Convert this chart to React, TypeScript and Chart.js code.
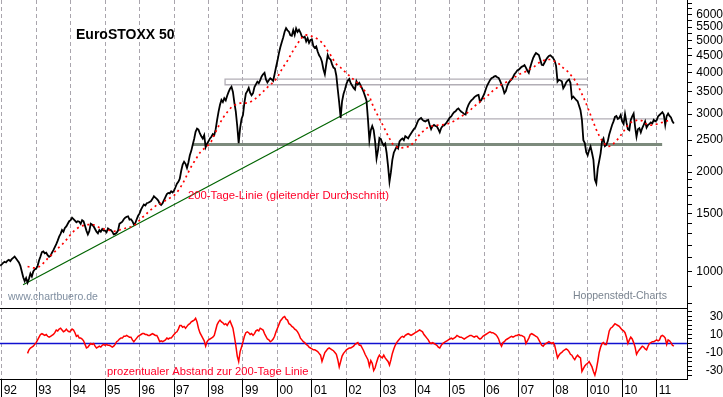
import { useEffect, useRef } from 'react';
import { Chart, registerables } from 'chart.js';

Chart.register(...registerables);

const FONT = '"Liberation Sans", Arial, Helvetica, sans-serif';

// ---- axis ticks ----
const yearTicks = [1992, 1993, 1994, 1995, 1996, 1997, 1998, 1999, 2000, 2001, 2002, 2003, 2004, 2005, 2006, 2007, 2008, 2009, 2010, 2011];
const yearLabels = ['92', '93', '94', '95', '96', '97', '98', '99', '00', '01', '02', '03', '04', '05', '06', '07', '08', '010', '10', '11'];

const priceTicks = [800, 900, 1000, 1100, 1200, 1300, 1400, 1500, 1600, 1700, 1800, 1900, 2000, 2250, 2500, 2750, 3000, 3250, 3500, 3750, 4000, 4250, 4500, 4750, 5000, 5250, 5500, 5750, 6000, 6250, 6500];
const priceLabels = [1000, 1500, 2000, 2500, 3000, 3500, 4000, 4500, 5000, 5500, 6000];

const devTicks = [-35, -30, -25, -20, -15, -10, -5, 0, 5, 10, 15, 20, 25, 30, 35];
const devLabels = [-30, -10, 10, 30];

// ---- EuroSTOXX 50, half-monthly readings ----
const INDEX_START = 1991.958;
const INDEX_STEP = 1 / 24;
const indexValues = [1040,
  1050, 1062, 1070, 1065, 1078, 1085, 1075, 1090, 1100, 1110, 1095, 1080, 1065, 1040, 1000, 960, 935, 955, 925, 950, 985, 965, 1000, 1015,
  1020, 1040, 1080, 1110, 1145, 1150, 1135, 1140, 1120, 1108, 1115, 1140, 1160, 1185, 1210, 1240, 1275, 1300, 1335, 1320, 1355, 1370, 1395, 1420,
  1430, 1455, 1440, 1425, 1410, 1420, 1415, 1395, 1430, 1420, 1375, 1330, 1295, 1325, 1395, 1385, 1370, 1345, 1320, 1305, 1335, 1320, 1345, 1330,
  1330, 1315, 1350, 1340, 1335, 1320, 1295, 1300, 1310, 1330, 1395, 1405, 1415, 1440, 1455, 1465, 1470, 1435, 1440, 1420, 1390, 1400, 1440, 1475,
  1500, 1540, 1570, 1595, 1585, 1610, 1615, 1625, 1635, 1660, 1690, 1675, 1660, 1640, 1605, 1590, 1610, 1645, 1680, 1715, 1730, 1725, 1750, 1735,
  1760, 1800, 1845, 1870, 1910, 2020, 2110, 2150, 2120, 2060, 2140, 2250, 2320, 2420, 2520, 2650, 2710, 2690, 2620, 2570, 2530, 2590, 2380, 2440,
  2480, 2530, 2560, 2610, 2590, 2700, 2880, 3050, 3200, 3310, 3260, 3350, 3300, 3410, 3500, 3580, 3630, 3500, 3250, 3050, 2760, 2450, 2720, 2900,
  2980, 3250, 3460, 3520, 3600, 3480, 3420, 3470, 3620, 3690, 3760, 3720, 3800, 3900, 3960, 4000, 3820, 3740, 3800, 3850, 3820, 3780, 3960, 4160,
  4350, 4580, 4780, 4950, 5120, 5330, 5460, 5380, 5330, 5200, 5180, 5390, 5210, 5450, 5320, 5400, 5300, 5150, 5120, 5150, 4980, 5090, 4930, 5030,
  5050, 4820, 4760, 4810, 4640, 4520, 4450, 4320, 4100, 3960, 4250, 4530, 4420, 4390, 4250, 4150, 4120, 3920, 3560, 3250, 2920, 3280, 3450, 3560,
  3700, 3790, 3830, 3720, 3660, 3600, 3560, 3770, 3690, 3730, 3660, 3580, 3500, 3400, 3300, 2900, 2500, 2680, 2760, 2680, 2480, 2200, 2330, 2540,
  2520, 2450, 2410, 2440, 2290, 2090, 1870, 2000, 2180, 2290, 2340, 2390, 2360, 2480, 2510, 2530, 2500, 2570, 2550, 2530, 2580, 2620, 2660, 2700,
  2730, 2800, 2870, 2900, 2920, 2880, 2860, 2850, 2870, 2880, 2780, 2700, 2760, 2780, 2760, 2750, 2700, 2640, 2720, 2760, 2770, 2800, 2840, 2880,
  2930, 2950, 3000, 3040, 3060, 3100, 3120, 3080, 3050, 3030, 3000, 2990, 3120, 3200, 3260, 3300, 3330, 3370, 3400, 3420, 3430, 3270, 3310, 3380,
  3450, 3560, 3660, 3730, 3800, 3850, 3870, 3900, 3910, 3880, 3860, 3780, 3690, 3600, 3470, 3520, 3650, 3730, 3780, 3820, 3880, 3960, 4010, 4070,
  4090, 4130, 4170, 4190, 4220, 4150, 4060, 4000, 4160, 4300, 4430, 4520, 4590, 4560, 4530, 4380, 4230, 4220, 4300, 4380, 4450, 4500, 4520, 4480,
  4430, 4350, 4200, 3760, 3810, 3790, 3770, 3590, 3650, 3740, 3790, 3820, 3730, 3350, 3390, 3350, 3310, 3280, 3180, 3080, 2880, 2500, 2450, 2300,
  2250, 2330, 2390, 2290, 2180, 1900, 1850, 2050, 2160, 2280, 2480, 2530, 2400, 2420, 2480, 2600, 2690, 2780, 2850, 2940, 2960, 2900, 2920, 2980,
  2850, 2800, 3000, 2830, 2700, 2680, 2880, 2950, 3010, 2750, 2560, 2700, 2720, 2640, 2720, 2780, 2850, 2730, 2780, 2800, 2830, 2810, 2880, 2850,
  2870, 2950, 2980, 3010, 3040, 2990, 2780, 2960, 3010, 2960, 2930, 2850, 2810];

// ---- 200-day moving average, monthly readings ----
const MA_START = 1992.75;
const MA_STEP = 1 / 12;
const ma200Values = [
  1035, 1030, 1025, 1027, 1033, 1050, 1070, 1095, 1115, 1137, 1160, 1185,
  1205, 1235, 1260, 1295, 1322, 1345, 1365, 1375, 1383, 1386, 1386, 1385,
  1372, 1358, 1350, 1342, 1335, 1330, 1323, 1325, 1335, 1345, 1352, 1360,
  1366, 1375, 1400, 1430, 1460, 1480, 1515, 1540, 1565, 1590, 1605, 1620,
  1640, 1660, 1678, 1700, 1735, 1785, 1845, 1920, 2000, 2080, 2150, 2220,
  2290, 2340, 2375, 2420, 2480, 2600, 2700, 2815, 2920, 3000, 3080, 3150,
  3190, 3220, 3237, 3237, 3237, 3250, 3280, 3320, 3380, 3440, 3510, 3580,
  3650, 3710, 3780, 3880, 4020, 4170, 4280, 4430, 4600, 4750, 4900, 5060,
  5160, 5210, 5190, 5160, 5120, 5060, 4980, 4900, 4720, 4600, 4450, 4300,
  4200, 4150, 4060, 4000, 3920, 3850, 3790, 3720, 3630, 3560, 3470, 3400,
  3220, 3080, 2960, 2850, 2740, 2630, 2530, 2440, 2400, 2375, 2370, 2375,
  2385, 2390, 2440, 2490, 2570, 2630, 2670, 2720, 2750, 2760, 2770, 2778,
  2780, 2790, 2800, 2815, 2845, 2870, 2910, 2950, 2990, 3020, 3070, 3140,
  3190, 3240, 3300, 3350, 3400, 3460, 3530, 3580, 3640, 3690, 3720, 3760,
  3800, 3860, 3900, 3950, 3990, 4020, 4060, 4110, 4150, 4220, 4290, 4340,
  4370, 4390, 4390, 4360, 4300, 4260, 4170, 4110, 4040, 3950, 3860, 3750,
  3600, 3450, 3300, 3140, 2980, 2830, 2690, 2580, 2490, 2430, 2390, 2400,
  2440, 2490, 2550, 2620, 2700, 2780, 2830, 2860, 2870, 2880, 2860, 2810,
  2780, 2775, 2780, 2795, 2815, 2830, 2850, 2865, 2880];

// ---- percentage distance to the 200-day line, half-monthly readings ----
const DEV_START = 1992.75;
const DEV_STEP = 1 / 24;
const deviationValues = [
  -11, -7, -5, -4, -3, -1, 1, 4, 7, 10, 11, 10, 9, 10, 8, 7, 8, 9, 10, 12, 15, 14, 16, 17,
  15, 13, 14, 16, 14, 13, 14, 16, 15, 12, 8, 9, 6, 6, 5, 3, -1, -5, -4, -2, 0, -1, 0, -3,
  -5, -4, -3, -4, -2, -1, -2, -1, -2, -2, -3, -4, -3, -1, 2, 3, 5, 6, 6, 8, 8, 9, 8, 7,
  7, 4, 2, 4, 6, 8, 9, 10, 11, 11, 10, 10, 9, 9, 10, 11, 10, 9, 9, 6, 2, 3, 2, 3,
  4, 6, 5, 6, 6, 8, 10, 12, 13, 16, 20, 20, 18, 19, 17, 19, 21, 22, 24, 25, 26, 28, 24, 17,
  12, 9, 6, 3, -3, 2, 4, 5, 6, 7, 9, 15, 21, 24, 26, 24, 23, 21, 22, 20, 23, 25, 21, 17,
  8, -2, -14, -20, -9, -4, 2, 8, 12, 13, 12, 10, 11, 9, 11, 14, 15, 14, 17, 16, 15, 11, 8, 5,
  4, 2, 3, 5, 8, 13, 17, 21, 25, 27, 29, 30, 27, 26, 22, 21, 19, 18, 16, 15, 13, 10, 6, 4,
  2, 1, -1, -2, -4, -5, -6, -7, -7, -8, -9, -11, -13, -20, -15, -10, -8, -6, -5, -6, -7, -8, -10, -12,
  -18, -26, -20, -14, -11, -9, -7, -6, -5, -5, -4, -3, -1, 0, 1, -2, -2, -5, -8, -12, -15, -18, -25, -19,
  -22, -30, -27, -21, -16, -13, -15, -16, -13, -16, -18, -20, -24, -18, -11, -6, -2, 1, 3, 5, 7, 8, 7, 9,
  10, 11, 10, 9, 10, 11, 12, 13, 14, 15, 14, 13, 10, 8, 6, 4, 1, 0, 1, 0, -1, -2, -4, -5,
  -2, 0, 1, 2, 3, 4, 5, 6, 5, 6, 7, 9, 8, 7, 7, 6, 5, 6, 7, 8, 9, 9, 8, 7,
  8, 8, 6, 5, 6, 8, 9, 10, 11, 12, 13, 12, 12, 11, 10, 8, 5, 0, -3, 1, 2, 4, 5, 6,
  7, 8, 7, 8, 9, 9, 10, 9, 9, 8, 7, 0, 3, 6, 10, 11, 10, 9, 8, 7, 4, 1, -2, -3,
  -1, 0, 1, 2, 1, 0, 1, -2, -9, -16, -13, -11, -10, -8, -7, -6, -7, -9, -12, -13, -16, -18, -15, -13,
  -15, -16, -31, -28, -25, -23, -22, -20, -23, -26, -31, -35, -29, -20, -10, -4, 0, 1, -1, -1, 6, 14, 17, 18,
  20, 22, 21, 20, 19, 17, 15, 14, 12, 7, 0, 4, 7, 5, 1, -4, -12, -9, -7, -5, -3, -4, -6, -7,
  -3, 0, 1, 2, 2, 3, 4, 3, 4, 8, 9, 8, 6, -1, 4, 3, 1, -2, -3];

// ---- drawn reference lines (year, index level) ----
const supportX = [1997.55, 2011.16];
const supportY = [2427, 2427];
const boxX = [2009.0, 1998.48, 1998.48, 2009.0];
const boxY = [3830, 3830, 3680, 3680];
const lowLineX = [2001.82, 2011.2];
const lowLineY = [2900, 2900];
const trendX = [1992.62, 2002.685];
const trendY = [912, 3297];
const zeroX = [1991.95, 2011.88];
const zeroY = [0, 0];

// ---- scale bounds ----
const X_MIN = 1991.9507;
const X_MAX = 2011.8811;
const Y_MIN = 775;
const Y_MAX = 6649;
const D_MIN = -39.44;
const D_MAX = 39.44;

const pairs = (xs: number[], ys: number[]) => xs.map((x, i) => ({ x, y: ys[i] }));
const series = (start: number, step: number, vals: number[]) => vals.map((y, i) => ({ x: start + i * step, y }));

const annotations = {
  id: 'annotations',
  afterDraw(chart: any) {
    const { ctx, chartArea, scales } = chart;
    const yMain = scales.y;
    ctx.save();
    // separator between panels
    ctx.strokeStyle = '#000';
    ctx.lineWidth = 1;
    ctx.beginPath();
    const sy = Math.round(yMain.bottom) + 0.5;
    ctx.moveTo(chartArea.left, sy);
    ctx.lineTo(chartArea.right, sy);
    ctx.stroke();

    ctx.textBaseline = 'alphabetic';
    ctx.textAlign = 'left';
    ctx.fillStyle = '#000';
    ctx.font = `bold 14px ${FONT}`;
    ctx.fillText('EuroSTOXX 50', 76, 38.5);

    ctx.fillStyle = '#ff0028';
    ctx.font = `11.3px ${FONT}`;
    ctx.fillText('200-Tage-Linie (gleitender Durchschnitt)', 188, 199);
    ctx.font = `11.2px ${FONT}`;
    ctx.fillText('prozentualer Abstand zur 200-Tage Linie', 107, 375);

    ctx.font = `10.5px ${FONT}`;
    ctx.fillStyle = '#7f8ea0';
    ctx.fillText('www.chartbuero.de', 8, 300);
    ctx.fillStyle = '#7a8490';
    ctx.fillText('Hoppenstedt-Charts', 573, 299);
    ctx.restore();
  },
};

export default function App() {
  const ref = useRef<HTMLCanvasElement>(null);

  useEffect(() => {
    document.body.style.margin = '0';
    const canvas = ref.current as HTMLCanvasElement;
    Chart.defaults.font.family = FONT;
    Chart.defaults.font.size = 12;
    Chart.defaults.color = '#000';

    const priceLabelSet = new Set(priceLabels);
    const devLabelSet = new Set(devLabels);

    const chart = new Chart(canvas, {
      type: 'line',
      data: {
        datasets: [
          {
            label: '200-Tage-Linie',
            data: series(MA_START, MA_STEP, ma200Values),
            yAxisID: 'y',
            borderColor: '#ff0000',
            borderWidth: 1.7,
            borderDash: [2, 3.5],
            order: 0,
          },
          {
            label: 'EuroSTOXX 50',
            data: series(INDEX_START, INDEX_STEP, indexValues),
            yAxisID: 'y',
            borderColor: '#000000',
            borderWidth: 1.8,
            order: 1,
          },
          {
            label: 'Trend',
            data: pairs(trendX, trendY),
            yAxisID: 'y',
            borderColor: '#006400',
            borderWidth: 1.2,
            order: 2,
          },
          {
            label: 'Unterstützung',
            data: pairs(supportX, supportY),
            yAxisID: 'y',
            borderColor: '#7c8a7c',
            borderWidth: 3,
            order: 3,
          },
          {
            label: 'Box',
            data: pairs(boxX, boxY),
            yAxisID: 'y',
            borderColor: '#b2aeb6',
            borderWidth: 1.3,
            order: 3,
          },
          {
            label: 'Tief 2001',
            data: pairs(lowLineX, lowLineY),
            yAxisID: 'y',
            borderColor: '#b2aeb6',
            borderWidth: 1.3,
            order: 3,
          },
          {
            label: 'Abstand',
            data: series(DEV_START, DEV_STEP, deviationValues),
            yAxisID: 'y2',
            borderColor: '#ff0000',
            borderWidth: 1.5,
            order: 0,
          },
          {
            label: 'Null',
            data: pairs(zeroX, zeroY),
            yAxisID: 'y2',
            borderColor: '#1010d0',
            borderWidth: 1.5,
            order: 2,
          },
        ],
      },
      options: {
        responsive: false,
        maintainAspectRatio: false,
        devicePixelRatio: 1,
        animation: false,
        events: [],
        layout: { padding: 0 },
        elements: {
          point: { radius: 0 },
          line: { tension: 0, fill: false },
        },
        plugins: {
          legend: { display: false },
          tooltip: { enabled: false },
        },
        scales: {
          x: {
            type: 'linear',
            position: 'bottom',
            min: X_MIN,
            max: X_MAX,
            bounds: 'data',
            afterBuildTicks: (s: any) => {
              s.ticks = yearTicks.map((v) => ({ value: v }));
            },
            afterFit: (s: any) => {
              s.height = 18;
              s.paddingLeft = 0;
              s.paddingRight = 0;
            },
            grid: {
              color: '#a9a5ad',
              lineWidth: 1,
              drawOnChartArea: true,
              drawTicks: true,
              tickLength: 18,
              tickColor: '#000',
              tickWidth: 1,
            },
            border: { display: true, color: '#000', width: 1, dash: [4, 3] },
            ticks: {
              autoSkip: false,
              maxRotation: 0,
              minRotation: 0,
              align: 'start',
              padding: -14,
              labelOffset: 2,
              color: '#000',
              font: { family: FONT, size: 12 },
              callback: (_v: any, i: number) => yearLabels[i],
            },
          },
          y: {
            type: 'logarithmic',
            position: 'right',
            stack: 'panels',
            stackWeight: 308,
            min: Y_MIN,
            max: Y_MAX,
            bounds: 'data',
            afterBuildTicks: (s: any) => {
              s.ticks = priceTicks.map((v) => ({ value: v }));
            },
            afterFit: (s: any) => {
              s.width = 36;
              s.paddingTop = 0;
              s.paddingBottom = 0;
            },
            grid: { drawOnChartArea: false, drawTicks: true, tickLength: 5, tickColor: '#000' },
            border: { display: true, color: '#000', width: 1 },
            ticks: {
              autoSkip: false,
              padding: 2,
              crossAlign: 'far',
              color: '#000',
              font: { family: FONT, size: 12 },
              callback: (v: any) => (priceLabelSet.has(Number(v)) ? String(v) : ''),
            },
          },
          y2: {
            type: 'linear',
            position: 'right',
            stack: 'panels',
            stackWeight: 71,
            min: D_MIN,
            max: D_MAX,
            bounds: 'data',
            afterBuildTicks: (s: any) => {
              s.ticks = devTicks.map((v) => ({ value: v }));
            },
            afterFit: (s: any) => {
              s.width = 36;
              s.paddingTop = 0;
              s.paddingBottom = 0;
            },
            grid: { drawOnChartArea: false, drawTicks: true, tickLength: 5, tickColor: '#000' },
            border: { display: true, color: '#000', width: 1 },
            ticks: {
              autoSkip: false,
              padding: 9,
              crossAlign: 'far',
              color: '#000',
              font: { family: FONT, size: 12 },
              callback: (v: any) => (devLabelSet.has(Number(v)) ? String(v) : ''),
            },
          },
        },
      } as any,
      plugins: [annotations],
    });

    return () => chart.destroy();
  }, []);

  return (
    <div style={{ position: 'absolute', left: 0, top: 0, width: 723, height: 397, background: '#fff' }}>
      <canvas ref={ref} width={723} height={397} style={{ display: 'block', width: 723, height: 397 }} />
    </div>
  );
}
